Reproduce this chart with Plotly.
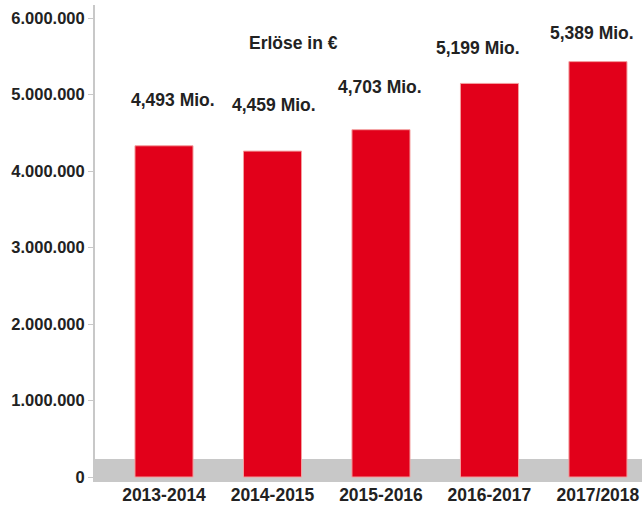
import plotly.graph_objects as go

# Data
categories = ["2013-2014", "2014-2015", "2015-2016", "2016-2017", "2017/2018"]
revenue = [4330000, 4260000, 4540000, 5145000, 5430000]
value_labels = ["4,493 Mio.", "4,459 Mio.", "4,703 Mio.", "5,199 Mio.", "5,389 Mio."]
y_ticks = [0, 1000000, 2000000, 3000000, 4000000, 5000000, 6000000]
chart_title = "Erlöse in €"

# label placement (data units for vertical centre, pixel nudge horizontally)
label_y = [4930000, 4860000, 5100000, 5610000, 5800000]
label_dx = [9, 2, -1, -11, -6]

FONT = "Liberation Sans, Arial, sans-serif"
LAB = dict(family=FONT, size=17.5, color="#222222", weight="bold")
TICKY = dict(family=FONT, size=16.5, color="#222222", weight="bold")
TICKX = dict(family=FONT, size=17.5, color="#222222", weight="bold")

fig = go.Figure()
fig.add_trace(go.Bar(
    x=categories,
    y=revenue,
    marker=dict(color="#E2001A", line=dict(color="#F3A0A0", width=1)),
    width=0.535,
    hoverinfo="skip",
))

# grey floor band
fig.add_shape(type="rect", xref="paper", yref="y", x0=0, x1=1,
              y0=-65000, y1=235000, fillcolor="#C8C8C8",
              line=dict(width=0), layer="below")

for cat, lab, ly, dx in zip(categories, value_labels, label_y, label_dx):
    fig.add_annotation(x=cat, y=ly, xref="x", yref="y", text=lab,
                       showarrow=False, xanchor="center", yanchor="middle",
                       xshift=dx, font=LAB)

fig.add_annotation(x=0.363, y=0.92, xref="paper", yref="paper", text=chart_title,
                   showarrow=False, xanchor="center", yanchor="middle",
                   font=LAB)

fig.update_layout(
    width=642, height=508,
    margin=dict(l=95, r=0, t=5, b=26),
    paper_bgcolor="white", plot_bgcolor="white",
    showlegend=False,
    separators=",.",
    font=LAB,
)
fig.update_xaxes(
    type="category", range=[-0.636, 4.406],
    showgrid=False, zeroline=False, showline=False, ticks="",
    tickfont=TICKX,
)
fig.update_yaxes(
    range=[-65000, 6170000],
    tickvals=y_ticks, tickformat=",d",
    showgrid=False, zeroline=False,
    showline=True, linecolor="#C8C8C8", linewidth=2,
    ticks="outside", ticklen=5, tickcolor="#C8C8C8", tickwidth=1,
    tickfont=TICKY,
)

fig.write_html("out.html", config={"displayModeBar": False},
               post_script="document.body.style.margin='0px';document.body.style.overflow='hidden';")
